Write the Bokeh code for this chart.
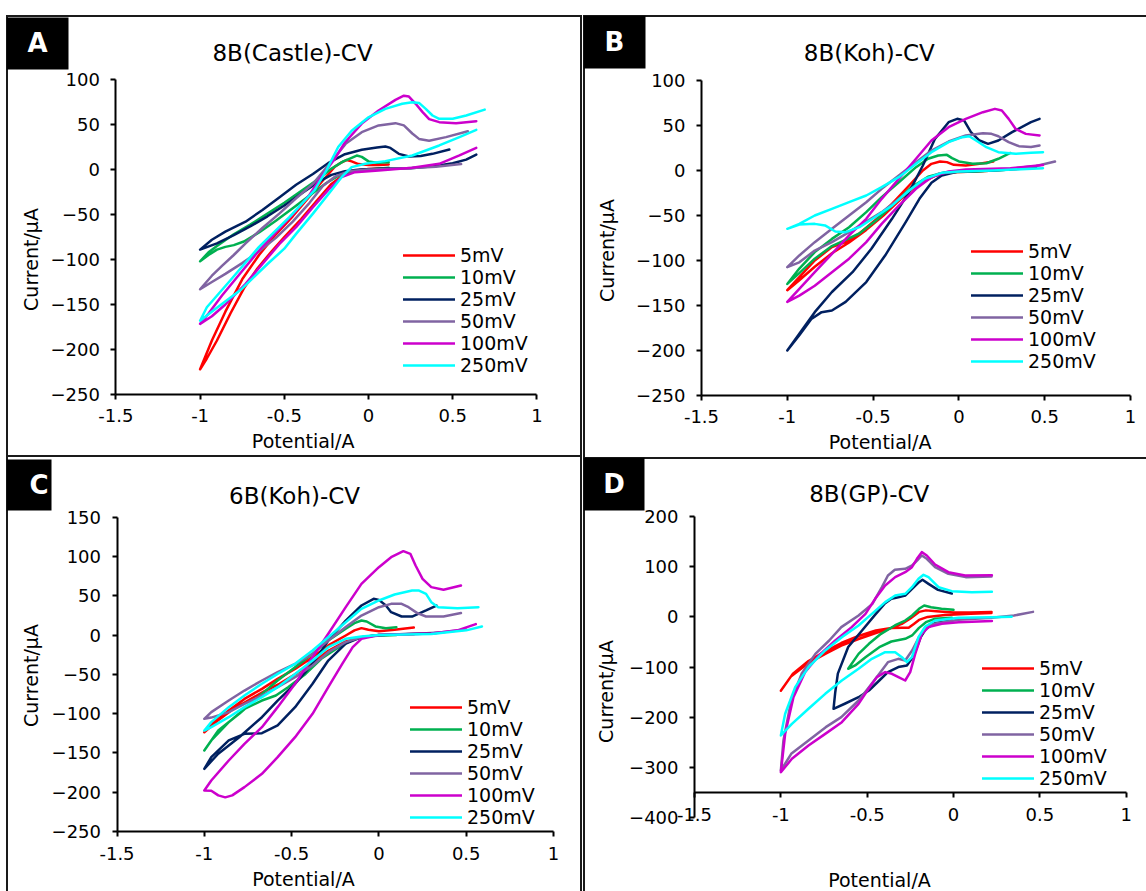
from math import pi
from bokeh.plotting import figure
from bokeh.models import Range1d, FixedTicker, Label, ColumnDataSource, Spacer, BoxAnnotation
from bokeh.layouts import column, row
from bokeh.embed import file_html
from bokeh.resources import INLINE

FONT = "DejaVu Sans"
SERIES = ["5mV", "10mV", "25mV", "50mV", "100mV", "250mV"]
COLORS = ["#FF0000", "#00B050", "#002060", "#8064A2", "#CC00CC", "#00FFFF"]

x_ticks = [-1.5, -1, -0.5, 0, 0.5, 1]
x_tick_labels = ["-1.5", "-1", "-0.5", "0", "0.5", "1"]
ab_y_ticks = [-250, -200, -150, -100, -50, 0, 50, 100]
c_y_ticks = [-250, -200, -150, -100, -50, 0, 50, 100, 150]
d_y_ticks = [-400, -300, -200, -100, 0, 100, 200]

titles = ["8B(Castle)-CV", "8B(Koh)-CV", "6B(Koh)-CV", "8B(GP)-CV"]
letters = ["A", "B", "C", "D"]
x_title = "Potential/A"
y_title = "Current/\u03bcA"

# ---------------- Panel A : 8B(Castle)-CV ----------------
A_5mV_x = [0.12, 0.06, 0.0, -0.06, -0.1, -0.13, -0.16, -0.2, -0.27, -0.35, -0.45, -0.55, -0.65, -0.75, -0.85, -0.93, -1.0, -0.96, -0.9, -0.82, -0.74, -0.66, -0.58, -0.5, -0.4, -0.3, -0.22, -0.15, -0.08, 0.0, 0.12]
A_5mV_y = [5.6, 5, 5, 6, 9, 10.5, 8, 3, -12, -30, -52, -72, -95, -122, -158, -190, -222, -210, -190, -160, -132, -110, -92, -75, -55, -33, -16, -6, -1.5, 0.5, 1.5]
A_10mV_x = [0.12, 0.05, 0.0, -0.04, -0.07, -0.1, -0.15, -0.22, -0.3, -0.4, -0.5, -0.6, -0.7, -0.8, -0.9, -0.95, -1.0, -0.95, -0.9, -0.85, -0.8, -0.74, -0.65, -0.55, -0.45, -0.35, -0.25, -0.17, -0.08, 0.0, 0.12]
A_10mV_y = [8, 7.5, 9, 14, 15.5, 13, 9, 1, -11, -24, -37, -49, -61, -72, -85, -92, -102, -95, -89, -86, -84, -80, -70, -57, -43, -29, -15, -6, -1.5, 0, 2]
A_25mV_x = [0.48, 0.38, 0.31, 0.24, 0.18, 0.13, 0.1, 0.05, -0.04, -0.14, -0.24, -0.33, -0.43, -0.53, -0.63, -0.73, -0.85, -0.93, -1.0, -0.9, -0.8, -0.7, -0.6, -0.5, -0.4, -0.3, -0.22, -0.14, -0.05, 0.1, 0.25, 0.4, 0.5, 0.58, 0.64]
A_25mV_y = [22.2, 17.4, 15, 14.5, 17.4, 24, 25.6, 24.5, 22, 17, 7, -5, -17, -31, -45, -58, -69, -78, -89, -82, -73, -63, -52, -40, -27, -14, -6, -2, 0, 1, 1.5, 4, 7, 11, 16.5]
A_50mV_x = [0.59, 0.46, 0.36, 0.3, 0.26, 0.21, 0.16, 0.06, -0.04, -0.136, -0.215, -0.33, -0.43, -0.53, -0.63, -0.73, -0.8, -0.87, -0.93, -1.0, -0.93, -0.85, -0.75, -0.65, -0.55, -0.45, -0.35, -0.27, -0.2, -0.12, 0.0, 0.2, 0.4, 0.55]
A_50mV_y = [42.5, 36, 32, 34, 40, 49, 51.5, 49, 41.5, 28.5, 10, -16, -32, -49, -65, -82, -95, -107, -118, -133, -125, -116, -104, -91, -76, -58, -37, -18, -8, -2, 0, 1, 3, 6]
A_100mV_x = [0.64, 0.52, 0.42, 0.36, 0.32, 0.28, 0.24, 0.21, 0.16, 0.06, -0.04, -0.14, -0.2, -0.28, -0.35, -0.45, -0.55, -0.65, -0.76, -0.87, -0.95, -1.0, -0.93, -0.85, -0.73, -0.63, -0.53, -0.43, -0.33, -0.24, -0.16, -0.08, 0.06, 0.26, 0.42, 0.54, 0.64]
A_100mV_y = [53.7, 51.5, 52.6, 56, 64, 73, 81, 82, 77.4, 65.6, 51, 30, 12, -8, -28, -50, -70, -90, -115, -140, -160, -171.5, -163, -150, -127, -105, -83, -64, -42, -23, -8.5, -3, -1, 2, 6.3, 15.6, 24]
A_250mV_x = [0.69, 0.58, 0.5, 0.42, 0.38, 0.34, 0.3, 0.26, 0.2, 0.1, 0.0, -0.1, -0.18, -0.25, -0.32, -0.47, -0.65, -0.82, -0.96, -1.0, -0.91, -0.76, -0.6, -0.5, -0.43, -0.33, -0.22, -0.16, -0.1, -0.02, 0.1, 0.26, 0.42, 0.54, 0.64]
A_250mV_y = [66.5, 60, 56.3, 56.3, 60, 67.4, 74, 74.8, 73, 67.4, 58, 43, 25, -1, -23, -53, -86, -123, -153, -168, -155, -134, -105, -88, -71.5, -49, -23, -8.5, 2.6, 6.3, 9.3, 15.6, 26.7, 36, 44]

# ---------------- Panel B : 8B(Koh)-CV ----------------
B_5mV_x = [0.2, 0.12, 0.04, -0.03, -0.07, -0.11, -0.16, -0.21, -0.29, -0.39, -0.49, -0.58, -0.66, -0.74, -0.84, -0.93, -1.0, -0.93, -0.84, -0.74, -0.64, -0.54, -0.44, -0.34, -0.24, -0.14, -0.04, 0.1, 0.2]
B_5mV_y = [10, 7.4, 5.6, 6.3, 9.3, 10, 7.4, 0, -16.7, -37, -55.6, -70, -79.6, -85, -100, -118.5, -133, -122, -107, -92, -80, -66, -50, -32, -16, -6, -2, -1, 0]
B_10mV_x = [0.3, 0.23, 0.16, 0.08, 0.0, -0.04, -0.07, -0.12, -0.18, -0.25, -0.35, -0.45, -0.54, -0.64, -0.74, -0.84, -0.93, -1.0, -0.93, -0.84, -0.74, -0.66, -0.58, -0.48, -0.38, -0.28, -0.18, -0.08, 0.1, 0.3]
B_10mV_y = [19.5, 13, 8.1, 7.4, 10, 13.7, 17.4, 16.7, 13, 3.7, -13, -29.6, -46.3, -63, -76, -90.7, -109, -126, -114, -98, -84, -77, -70, -55, -37, -19, -7, -2, -1, 1]
B_25mV_x = [0.47, 0.42, 0.31, 0.23, 0.17, 0.12, 0.07, 0.03, -0.01, -0.06, -0.14, -0.21, -0.29, -0.39, -0.51, -0.62, -0.74, -0.84, -0.93, -1.0, -0.93, -0.86, -0.8, -0.74, -0.66, -0.54, -0.43, -0.31, -0.23, -0.16, -0.1, 0.0, 0.2, 0.45]
B_25mV_y = [57.4, 53.7, 42.6, 33.3, 29.6, 33.3, 42.6, 55.6, 57.4, 53.7, 35, 5.6, -24, -53.7, -87, -113, -135, -157.4, -181.5, -200, -183, -165, -157.4, -155.6, -146, -124, -94.5, -57.4, -31.5, -13.7, -5.6, -1, 0, 3]
B_50mV_x = [0.47, 0.42, 0.35, 0.29, 0.23, 0.19, 0.14, 0.04, -0.06, -0.16, -0.25, -0.35, -0.45, -0.54, -0.64, -0.74, -0.84, -0.93, -1.0, -0.93, -0.84, -0.74, -0.64, -0.45, -0.25, -0.12, 0.0, 0.3, 0.45, 0.56]
B_50mV_y = [27.8, 26, 27, 31.5, 38.1, 40.7, 41.5, 38.9, 32.2, 22.2, 9.3, -5.6, -20.4, -35.2, -50, -64.8, -79.6, -94.4, -107.4, -102, -89, -79.6, -68.5, -46.3, -16.7, -3.7, -1, 2, 5, 10]
B_100mV_x = [0.47, 0.39, 0.33, 0.29, 0.25, 0.21, 0.14, 0.04, -0.06, -0.16, -0.25, -0.35, -0.45, -0.54, -0.64, -0.74, -0.84, -0.93, -1.0, -0.93, -0.84, -0.74, -0.64, -0.54, -0.45, -0.35, -0.25, -0.16, -0.06, 0.04, 0.3, 0.49]
B_100mV_y = [39, 40.7, 46.3, 57.4, 66.7, 68.5, 64.8, 57.4, 48.1, 33.3, 13, -9.3, -31.5, -53.7, -72, -92.6, -113, -131.5, -146, -139, -128, -113, -98, -79.6, -59.3, -39, -20.4, -7.4, -1.1, 1.1, 2.5, 6]
B_250mV_x = [0.49, 0.42, 0.33, 0.23, 0.16, 0.1, 0.06, 0.02, -0.06, -0.16, -0.25, -0.35, -0.45, -0.54, -0.64, -0.74, -0.84, -0.93, -1.0, -0.93, -0.84, -0.78, -0.72, -0.66, -0.58, -0.49, -0.39, -0.29, -0.2, -0.1, 0.0, 0.2, 0.49]
B_250mV_y = [20.4, 19.6, 18.5, 20.4, 25.9, 33.3, 38.1, 37, 31.5, 20.4, 7.4, -7.4, -18.5, -27.8, -35.2, -42.6, -50, -59.3, -64.8, -60, -59.3, -61, -67.8, -68.5, -63, -51.9, -39, -22.2, -9.3, -2.6, -1, 0, 2.6]

# ---------------- Panel C : 6B(Koh)-CV ----------------
C_5mV_x = [0.2, 0.09, 0.0, -0.06, -0.1, -0.14, -0.19, -0.29, -0.38, -0.48, -0.58, -0.67, -0.77, -0.86, -0.96, -1.0, -0.93, -0.84, -0.74, -0.66, -0.57, -0.48, -0.38, -0.29, -0.19, -0.1, 0.0, 0.2]
C_5mV_y = [9.5, 6.7, 5, 6.7, 8.8, 5.9, -0.5, -13.2, -28.1, -43, -55.7, -68.4, -81.2, -96, -113, -123.6, -110, -95, -82, -72, -62, -50, -35, -20, -8, -3, 0, 1]
C_10mV_x = [0.1, 0.04, -0.02, -0.07, -0.1, -0.14, -0.19, -0.29, -0.38, -0.48, -0.58, -0.67, -0.8, -0.92, -1.0, -0.96, -0.86, -0.77, -0.67, -0.59, -0.52, -0.42, -0.33, -0.23, -0.14, -0.04, 0.1]
C_10mV_y = [10, 8.8, 11, 17.3, 18.5, 15.2, 8.1, -6.9, -23.9, -40.8, -57.8, -74.8, -100.2, -121.4, -146.9, -134, -110.8, -93.9, -83.3, -76.9, -66.3, -49.4, -30.2, -15.4, -4.8, -1.3, 0]
C_25mV_x = [0.33, 0.27, 0.19, 0.13, 0.07, 0.04, 0.0, -0.03, -0.1, -0.19, -0.29, -0.38, -0.48, -0.58, -0.67, -0.8, -0.92, -1.0, -0.96, -0.86, -0.77, -0.67, -0.58, -0.48, -0.38, -0.29, -0.19, -0.1, 0.0, 0.35]
C_25mV_y = [37.6, 31.3, 23.6, 23.6, 29.1, 37.6, 44.8, 46.1, 37.6, 18.5, -6.9, -36.6, -62, -83.3, -104.5, -130, -151, -170.2, -155.4, -134, -125.7, -124.8, -115, -91.7, -62, -32.4, -11, -2.7, 0, 3]
C_50mV_x = [0.47, 0.37, 0.27, 0.22, 0.17, 0.13, 0.07, 0.0, -0.1, -0.19, -0.29, -0.38, -0.48, -0.58, -0.67, -0.77, -0.86, -0.96, -1.0, -0.96, -0.86, -0.77, -0.67, -0.58, -0.48, -0.38, -0.29, -0.19, -0.1, 0.0, 0.3, 0.5]
C_50mV_y = [28, 23.6, 23.6, 27.9, 35.5, 39.7, 39.7, 35.5, 24.9, 10.2, -6.9, -23.9, -36.6, -47.2, -57.8, -70.6, -83.3, -98.1, -106.6, -105, -98, -87.5, -76.9, -66.3, -53.6, -38.7, -21.8, -9, -2.7, 0, 2, 7]
C_100mV_x = [0.47, 0.37, 0.3, 0.25, 0.21, 0.18, 0.14, 0.07, 0.0, -0.1, -0.19, -0.29, -0.38, -0.48, -0.58, -0.67, -0.77, -0.86, -0.96, -1.0, -0.96, -0.92, -0.88, -0.84, -0.77, -0.67, -0.58, -0.48, -0.38, -0.29, -0.21, -0.15, -0.1, 0.0, 0.3, 0.45, 0.555]
C_100mV_y = [63, 57.6, 61, 71.6, 88.5, 103.4, 106.8, 99.1, 86.4, 65.2, 35.5, 1.7, -28, -62, -91.7, -117.2, -138.4, -159.6, -185, -197.8, -198, -204, -206.5, -204, -193.5, -176.6, -155.4, -129.9, -100.2, -66.3, -36.6, -15.4, -4.8, 0, 2, 6, 14]
C_250mV_x = [0.57, 0.45, 0.34, 0.3, 0.27, 0.23, 0.19, 0.09, 0.0, -0.1, -0.19, -0.29, -0.38, -0.48, -0.58, -0.67, -0.77, -0.86, -0.96, -1.0, -0.96, -0.86, -0.77, -0.67, -0.58, -0.48, -0.38, -0.29, -0.19, -0.1, 0.0, 0.3, 0.5, 0.59]
C_250mV_y = [35.4, 34, 35.5, 41.9, 52.5, 56.7, 56.7, 51.6, 44, 33.4, 16.4, -2.7, -19.6, -36.6, -49.4, -62, -76.9, -91.7, -110.8, -121.5, -117.2, -104.5, -91.7, -79, -66.3, -49.4, -32.4, -15.4, -4.8, -1.7, 0, 1.5, 6, 11]

# ---------------- Panel D : 8B(GP)-CV ----------------
D_5mV_x = [0.22, 0.1, 0.0, -0.1, -0.16, -0.2, -0.25, -0.3, -0.36, -0.45, -0.55, -0.65, -0.74, -0.84, -0.94, -1.0, -0.93, -0.84, -0.74, -0.65, -0.55, -0.45, -0.36, -0.3, -0.26, -0.23, -0.2, -0.15, -0.05, 0.1, 0.22]
D_5mV_y = [10, 9, 9, 11.5, 13, 10, -3, -14, -22, -32, -44, -57, -73, -92, -118, -147, -113, -88, -68, -52, -38, -27, -22, -21.5, -21.5, -14, -6, 0, 4, 6.5, 8]
D_10mV_x = [0.0, -0.07, -0.13, -0.17, -0.2, -0.24, -0.28, -0.34, -0.42, -0.49, -0.55, -0.61, -0.57, -0.51, -0.43, -0.36, -0.28, -0.24, -0.2, -0.16, -0.11, -0.01]
D_10mV_y = [14.1, 16.1, 19.4, 22.7, 16.1, 2.8, -7.2, -17.1, -33.7, -53.6, -73.6, -103.4, -96.8, -80.2, -60.3, -49, -43.7, -37, -21.8, -10.5, -3.8, -1.8]
D_25mV_x = [-0.01, -0.09, -0.145, -0.18, -0.2, -0.24, -0.28, -0.32, -0.36, -0.4, -0.45, -0.53, -0.61, -0.67, -0.685, -0.695, -0.63, -0.55, -0.49, -0.43, -0.38, -0.32, -0.27, -0.23, -0.19, -0.16, -0.11, -0.01]
D_25mV_y = [46.5, 53.9, 65.9, 73.9, 69.2, 56, 42.6, 39.3, 36, 26, 6, -27, -60, -113, -150, -183, -173, -160, -146.6, -126.7, -110, -100, -96.8, -77, -40.4, -23.8, -12.5, -7.2]
D_50mV_x = [0.22, 0.07, -0.03, -0.107, -0.155, -0.184, -0.21, -0.24, -0.28, -0.34, -0.38, -0.415, -0.47, -0.55, -0.65, -0.72, -0.8, -0.88, -0.94, -0.985, -1.0, -0.94, -0.84, -0.74, -0.65, -0.55, -0.49, -0.43, -0.38, -0.32, -0.28, -0.24, -0.2, -0.16, -0.11, 0.03, 0.22, 0.35, 0.46]
D_50mV_y = [80.5, 79.2, 85.8, 99.1, 115.7, 122.3, 112.4, 102.4, 95.8, 93.8, 82.5, 59.2, 26, 2.8, -20.4, -47, -73.6, -113.4, -166.5, -246, -306, -272.8, -246.2, -219.6, -199.7, -166.5, -140, -113.4, -90.2, -83.5, -86.9, -66.9, -40.4, -21.8, -13.8, -5.8, -1.8, 2.8, 10]
D_100mV_x = [0.222, 0.067, -0.03, -0.107, -0.155, -0.184, -0.212, -0.241, -0.28, -0.338, -0.396, -0.454, -0.51, -0.59, -0.685, -0.78, -0.86, -0.927, -0.975, -1.0, -0.936, -0.84, -0.743, -0.647, -0.55, -0.492, -0.444, -0.396, -0.357, -0.319, -0.28, -0.251, -0.222, -0.184, -0.145, -0.068, 0.029, 0.222]
D_100mV_y = [83, 82.5, 89.1, 104.4, 122.3, 129, 115.7, 99.1, 89.1, 79.2, 62.6, 36, 6, -20.4, -47, -76.9, -110, -159.9, -232.9, -309.3, -282.7, -256.2, -233, -209.7, -173.2, -143.3, -120, -110, -113.4, -120, -126.7, -110, -73.6, -33.7, -20.4, -13.8, -10.5, -8]
D_250mV_x = [0.222, 0.106, -0.01, -0.087, -0.145, -0.174, -0.203, -0.241, -0.28, -0.338, -0.396, -0.473, -0.55, -0.647, -0.743, -0.84, -0.917, -0.975, -1.0, -0.936, -0.84, -0.743, -0.647, -0.55, -0.473, -0.396, -0.338, -0.299, -0.27, -0.241, -0.203, -0.164, -0.107, 0.029, 0.222, 0.337]
D_250mV_y = [50, 49.3, 51.3, 59.2, 79.2, 83.8, 75.8, 59.2, 46, 42.6, 29.4, 6, -17.1, -40.4, -66.9, -100.1, -140, -193, -236.2, -213, -183, -153.2, -126.7, -103.4, -83.5, -70.2, -70.2, -80.2, -90.2, -80.2, -40.4, -19.1, -7.2, -1.8, -0.5, 0.5]

A_curves = [(A_5mV_x, A_5mV_y), (A_10mV_x, A_10mV_y), (A_25mV_x, A_25mV_y), (A_50mV_x, A_50mV_y), (A_100mV_x, A_100mV_y), (A_250mV_x, A_250mV_y)]
B_curves = [(B_5mV_x, B_5mV_y), (B_10mV_x, B_10mV_y), (B_25mV_x, B_25mV_y), (B_50mV_x, B_50mV_y), (B_100mV_x, B_100mV_y), (B_250mV_x, B_250mV_y)]
C_curves = [(C_5mV_x, C_5mV_y), (C_10mV_x, C_10mV_y), (C_25mV_x, C_25mV_y), (C_50mV_x, C_50mV_y), (C_100mV_x, C_100mV_y), (C_250mV_x, C_250mV_y)]
D_curves = [(D_5mV_x, D_5mV_y), (D_10mV_x, D_10mV_y), (D_25mV_x, D_25mV_y), (D_50mV_x, D_50mV_y), (D_100mV_x, D_100mV_y), (D_250mV_x, D_250mV_y)]

for grp in (A_curves, B_curves, C_curves, D_curves):
    for cx, cy in grp:
        assert len(cx) == len(cy), (len(cx), len(cy), cx[:3])


def border_style(sides, w=2, col="#1a1a1a"):
    sh = []
    if "l" in sides:
        sh.append(f"inset {w}px 0 0 0 {col}")
    if "t" in sides:
        sh.append(f"inset 0 {w}px 0 0 {col}")
    if "r" in sides:
        sh.append(f"inset -{w}px 0 0 0 {col}")
    if "b" in sides:
        sh.append(f"inset 0 -{w}px 0 0 {col}")
    return {"box-shadow": ", ".join(sh)}


def make_panel(curves, idx, width, height, view_x, view_y, axis_y_bounds, y_ticks, sides,
               legend_loc, title_xy, ylab_xy, xlab_xy, letter_xy, letter_box, x_axis_at):
    p = figure(width=width, height=height, x_range=Range1d(*view_x),
               y_range=Range1d(*view_y), output_backend="svg",
               toolbar_location=None, title=None,
               min_border_left=0, min_border_right=0,
               min_border_top=0, min_border_bottom=0,
               styles=border_style(sides))
    p.border_fill_color = None
    p.background_fill_color = None
    p.outline_line_color = None
    p.xgrid.visible = False
    p.ygrid.visible = False

    # axes sit inside the frame at fixed data locations (Excel-style crossing)
    p.xaxis.fixed_location = x_axis_at
    p.yaxis.fixed_location = -1.5
    p.xaxis.bounds = (-1.5, 1)
    p.yaxis.bounds = axis_y_bounds
    for ax in (p.xaxis[0], p.yaxis[0]):
        ax.axis_line_width = 2
        ax.axis_line_color = "black"
        ax.major_tick_line_width = 2
        ax.major_tick_line_color = "black"
        ax.major_tick_out = 5
        ax.major_tick_in = 0
        ax.minor_tick_out = 0
        ax.minor_tick_in = 0
        ax.major_label_text_font = FONT
        ax.major_label_text_font_size = "18px"
        ax.major_label_text_color = "black"
    p.xaxis.ticker = FixedTicker(ticks=x_ticks)
    p.xaxis.major_label_overrides = {
        (int(v) if float(v).is_integer() else v): lab for v, lab in zip(x_ticks, x_tick_labels)}
    p.yaxis.ticker = FixedTicker(ticks=y_ticks)
    p.xaxis.major_label_standoff = 10
    p.yaxis.major_label_standoff = 11

    for (cx, cy), col, name in zip(curves, COLORS, SERIES):
        src = ColumnDataSource(dict(x=cx, y=cy))
        p.line("x", "y", source=src, line_color=col, line_width=2.5,
               line_join="round", line_cap="round", legend_label=name)

    leg = p.legend[0]
    leg.location = legend_loc
    leg.orientation = "vertical"
    leg.glyph_width = 52
    leg.glyph_height = 20
    leg.label_height = 20
    leg.label_standoff = 5
    leg.spacing = 0
    leg.padding = 0
    leg.margin = 0
    leg.border_line_color = None
    leg.background_fill_alpha = 0
    leg.label_text_font = FONT
    leg.label_text_font_size = "19px"
    leg.label_text_color = "black"

    p.add_layout(Label(x=title_xy[0], y=title_xy[1], text=titles[idx], text_font=FONT,
                       text_font_size="23px", text_align="center", text_baseline="middle",
                       text_color="black"))
    p.add_layout(Label(x=ylab_xy[0], y=ylab_xy[1], text=y_title, text_font=FONT,
                       text_font_size="19px", text_align="center", text_baseline="middle",
                       angle=pi / 2, text_color="black"))
    p.add_layout(Label(x=xlab_xy[0], y=xlab_xy[1], text=x_title, text_font=FONT,
                       text_font_size="19px", text_align="center", text_baseline="middle",
                       text_color="black"))
    l, r, b, t = letter_box
    p.add_layout(BoxAnnotation(left=l, right=r, bottom=b, top=t, fill_color="black",
                               fill_alpha=1.0, line_color=None))
    p.add_layout(Label(x=letter_xy[0], y=letter_xy[1], text=letters[idx], text_font=FONT,
                       text_font_size="26px", text_font_style="bold", text_color="white",
                       text_align="center", text_baseline="middle"))
    return p


pA = make_panel(A_curves, 0, 576, 442, (-2.1497, 1.2708), (-320.0, 171.11), (-250, 100),
                ab_y_ticks, "ltrb", (397, 81),
                (-0.451, 128.9), (-2.007, -100), (-0.388, -302.2), (-1.9656, 140.0),
                (-2.1497, -1.7815, 111.1, 168.9), -250)
pB = make_panel(B_curves, 1, 563, 442, (-2.1876, 1.0932), (-318.89, 172.22), (-250, 100),
                ab_y_ticks, "lt", (388, 85),
                (-0.522, 131.1), (-2.048, -88.9), (-0.459, -302.2), (-2.007, 142.8),
                (-2.1876, -1.8263, 113.3, 172.2), -250)
pC = make_panel(C_curves, 2, 576, 434, (-2.1329, 1.1661), (-326.32, 225.97), (-250, 150),
                c_y_ticks, "lr", (404, 63),
                (-0.483, 177.6), (-1.99, -51.5), (-0.432, -311.0), (-1.947, 191.0),
                (-2.1329, -1.8751, 158.5, 223.4), -250)
pD = make_panel(D_curves, 3, 563, 434, (-2.1427, 1.1172), (-547.0, 317.53), (-400, 200),
                d_y_ticks, "lt", (399, 102),
                (-0.488, 245.8), (-2.01, -148.6), (-0.429, -523.1), (-1.966, 264.7),
                (-2.1427, -1.7895, 212.0, 317.5), -350)

layout = column(
    Spacer(width=1146, height=15),
    row(Spacer(width=6, height=442), pA, Spacer(width=1, height=442), pB),
    row(Spacer(width=6, height=434), pC, Spacer(width=1, height=434), pD),
)

open("out.html", "w").write(file_html(layout, INLINE))
